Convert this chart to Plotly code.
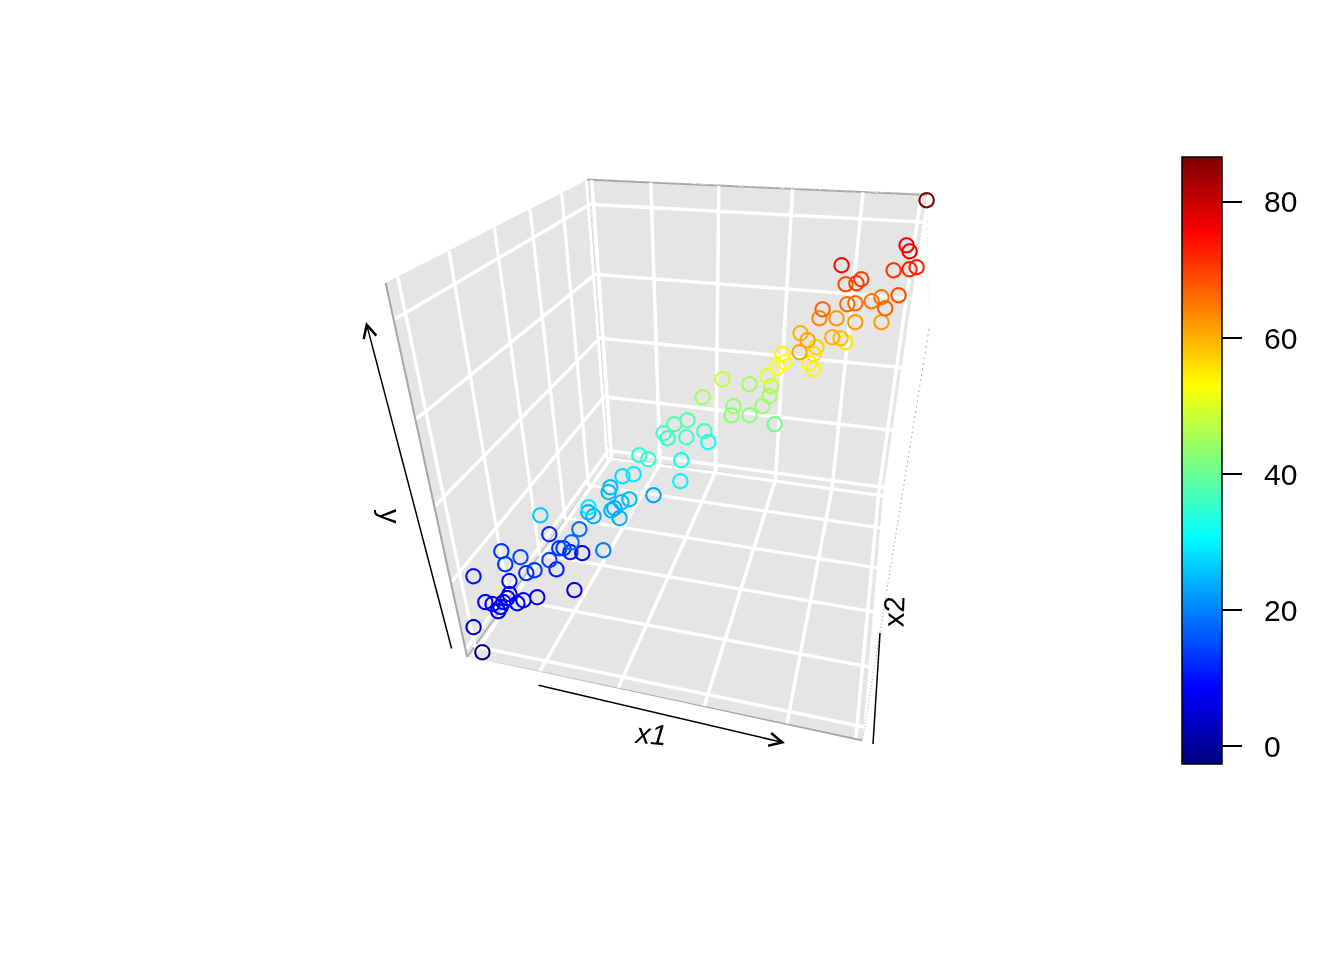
import plotly.graph_objects as go

# x1/x2 on a 0-100 scale
x1 = [2.9,2.5,-4.1,1.6,3.8,6.5,6.7,6.9,7.2,7.0,5.7,10.6,11.6,14.6,22.3,0.5,4.1,8.2,10.4,12.7,9.2,15.4,16.8,15.2,
      16.3,17.5,20.7,20.5,19.6,30.6,13.8,26.5,23.9,25.9,32.8,29.5,29.9,31.4,33.0,26.4,26.0,37.6,29.3,32.5,46.2,44.6,34.0,37.6,
      49.3,48.6,44.7,38.0,39.3,40.6,43.5,47.9,52.1,58.6,56.7,56.9,61.5,64.2,67.9,65.3,65.1,64.8,67.1,68.4,67.4,73.7,75.2,76.7,
      76.0,76.4,71.9,74.6,80.3,82.3,83.2,76.5,77.3,80.4,85.5,82.9,84.9,81.6,84.5,85.5,80.4,88.9,91.3,92.7,92.2,95.6,93.6,97.7,
      99.4,96.2,97.1,99.8]
x2 = [2.4,1.5,14.2,9.3,9.1,7.1,8.1,9.4,11.0,12.5,15.4,9.9,11.3,13.2,19.2,21.8,17.2,18.4,16.5,16.9,33.1,20.4,21.0,26.8,
      27.1,28.5,23.6,29.3,31.4,21.3,21.6,23.6,28.6,27.3,28.2,30.9,32.0,33.5,35.3,37.1,39.4,41.7,40.6,40.7,38.9,45.5,41.8,38.8,
      56.5,54.7,50.3,50.9,50.4,52.7,55.7,55.5,60.9,66.3,54.5,51.4,52.6,56.3,55.3,60.4,64.2,58.7,60.1,63.7,66.3,50.9,62.2,58.7,
      63.2,65.3,65.8,58.9,65.0,67.5,75.8,66.2,63.9,73.0,71.3,72.2,73.4,78.3,76.4,80.0,73.1,79.1,82.9,68.3,72.9,72.6,86.3,84.6,
      83.1,91.6,85.9,93.6]
y = [-2.6,6,10,7,7,7,7.5,8,8,8,9.5,8,8,8,7,13,13,15,12,13,12,14,11,13,
     13,11,18,18,9,19,26,29,24,24,24,24,24,25,25,25,25,23,28,29,30,32,34,35,
     32,36,36,36,35,38,38,45,48,45,44,43,43,44,40,45,46,51,53,53,54,61,54,54,
     56,57,60,61,60,59,55,64,67,62,62,66,66,69,70,70,75,65,65,67,62,69,71,72,
     73,76,76,86.6]

x1_ticks = [1.5,20.4,41.3,63.0,82.8,98.5]
x2_ticks = [3.5,21.8,41.7,60.5,80.3,98.5]
y_ticks = [0,20,40,60,80]
y_lo, y_hi = -2.6, 86.6

jet = [[0,"#00007F"],[.125,"#0000FF"],[.25,"#007FFF"],[.375,"#00FFFF"],[.5,"#7FFF7F"],
       [.625,"#FFFF00"],[.75,"#FF7F00"],[.875,"#FF0000"],[1,"#7F0000"]]

W, H = 1344, 960
plot_h, cx, cy = 620, 688, 445
bar_top, bar_bottom = 157, 764
domain = dict(x=[(cx-650)/W,(cx+650)/W], y=[1-(cy+plot_h/2)/H,1-(cy-plot_h/2)/H])
aspect = dict(x=1, y=1.032, z=0.99)
camera = dict(eye=dict(x=0.428,y=-1.708,z=0.94), center=dict(x=-0.034,y=-0.045,z=-0.062),
              up=dict(x=-0.124,y=0.486,z=0.865), projection=dict(type="perspective"))

fig = go.Figure()

# grid on the three back walls, gl axis lines stay 1px so these are traces
# lifted a little off the walls so they do not fight with them
off = 0.25
zf = y_lo+off*0.9
gx, gy, gz = [], [], []
def seg(a, b):
    gx.extend([a[0],b[0],None]); gy.extend([a[1],b[1],None]); gz.extend([a[2],b[2],None])
for t in x1_ticks:
    seg((t,0,zf),(t,100-off,zf)); seg((t,100-off,y_lo),(t,100-off,y_hi))
for t in x2_ticks:
    seg((0,t,zf),(100,t,zf)); seg((off,t,y_lo),(off,t,y_hi))
for t in y_ticks:
    seg((off,0,t),(off,100-off,t)); seg((off,100-off,t),(100,100-off,t))
fig.add_trace(go.Scatter3d(x=gx,y=gy,z=gz,mode="lines",line=dict(color="white",width=7),
                           hoverinfo="skip",showlegend=False,scene="scene"))

# panel edges
ex, ey, ez = [], [], []
for a, b in [((0,0,y_lo),(100,0,y_lo)),((0,100,y_lo),(100,100,y_lo)),((0,0,y_lo),(0,100,y_lo)),
             ((0,0,y_lo),(0,0,y_hi)),((0,100,y_lo),(0,100,y_hi)),((0,0,y_hi),(0,100,y_hi)),((0,100,y_hi),(100,100,y_hi))]:
    ex.extend([a[0],b[0],None]); ey.extend([a[1],b[1],None]); ez.extend([a[2],b[2],None])
fig.add_trace(go.Scatter3d(x=ex,y=ey,z=ez,mode="lines",line=dict(color="#A6A6A6",width=4),
                           hoverinfo="skip",showlegend=False,scene="scene"))
# right wall is edge on, only its dotted outline shows
fig.add_trace(go.Scatter3d(x=[100,100,100],y=[100,0,0],z=[y_hi,y_hi,y_lo],mode="lines",
                           line=dict(color="#AAAAAA",width=2,dash="dot"),
                           hoverinfo="skip",showlegend=False,scene="scene"))

# points live in a second scene on top so the walls do not cut the open circles
fig.add_trace(go.Scatter3d(
    x=x1,y=x2,z=y,mode="markers",showlegend=False,scene="scene2",
    marker=dict(symbol="circle-open",size=9,color=y,cmin=y_lo,cmax=y_hi,colorscale=jet,
        line=dict(width=1.5,color=y,cmin=y_lo,cmax=y_hi,colorscale=jet),
        colorbar=dict(x=1182/W,xanchor="left",y=1-bar_bottom/H,yanchor="bottom",len=(bar_bottom-bar_top)/H,thickness=40,
                      ticks="outside",ticklen=20,tickwidth=1.5,tickcolor="black",
                      outlinewidth=1.5,outlinecolor="black",tickvals=y_ticks,showticklabels=False,xpad=0,ypad=0))))

wall = dict(showbackground=True,backgroundcolor="#E5E5E5",showgrid=False,showticklabels=False,
            title="",zeroline=False,showspikes=False,showline=False,ticks="")
hidden = dict(visible=False)
pad = 0.1
dy = (y_hi-y_lo)*pad

def label(text, px, py, angle, size=29):
    return dict(x=px/W,y=1-py/H,xref="paper",yref="paper",text=text,textangle=angle,showarrow=False,
                xanchor="center",yanchor="middle",font=dict(family="Liberation Sans",size=size,color="black"))
def arrow(x0, y0, x1_, y1_):
    return dict(x=x1_/W,y=1-y1_/H,xref="paper",yref="paper",ax=x0-x1_,ay=y0-y1_,axref="pixel",ayref="pixel",
                text="",showarrow=True,arrowhead=5,arrowsize=1.7,arrowwidth=1.5,arrowcolor="black")
# colour bar labels sit further out than plotly puts them
bar_labels = [dict(x=1262/W,y=(v-y_lo)/(y_hi-y_lo)*(bar_bottom-bar_top)/H+1-bar_bottom/H,xref="paper",yref="paper",
                   text=str(v),showarrow=False,xanchor="left",yanchor="middle",
                   font=dict(family="Liberation Sans",size=30,color="black")) for v in y_ticks]

fig.update_layout(
    width=W,height=H,margin=dict(l=0,r=0,t=0,b=0),paper_bgcolor="white",showlegend=False,
    scene=dict(domain=domain,aspectmode="manual",aspectratio=aspect,camera=camera,
               xaxis=dict(wall,range=[0,100]),yaxis=dict(wall,range=[0,100]),zaxis=dict(wall,range=[y_lo,y_hi])),
    scene2=dict(domain=domain,aspectmode="manual",camera=camera,
                aspectratio=dict(x=aspect["x"]*(1+2*pad),y=aspect["y"]*(1+2*pad),z=aspect["z"]*(1+2*pad)),
                xaxis=dict(hidden,range=[-10,110]),yaxis=dict(hidden,range=[-10,110]),
                zaxis=dict(hidden,range=[y_lo-dy,y_hi+dy])),
    annotations=[arrow(537,685,785,743),arrow(452,650,366,322),
                 label("<i>x1</i>",650,734,5),label("y",390,516,90),label("x2",894,612,-88)]+bar_labels,
    shapes=[dict(type="line",xref="paper",yref="paper",x0=873/W,y0=1-744/H,x1=880/W,y1=1-633/H,
                 line=dict(color="black",width=1.5))],
)
fig.write_html("out.html",post_script="document.body.style.margin=0;",config=dict(displayModeBar=False))
